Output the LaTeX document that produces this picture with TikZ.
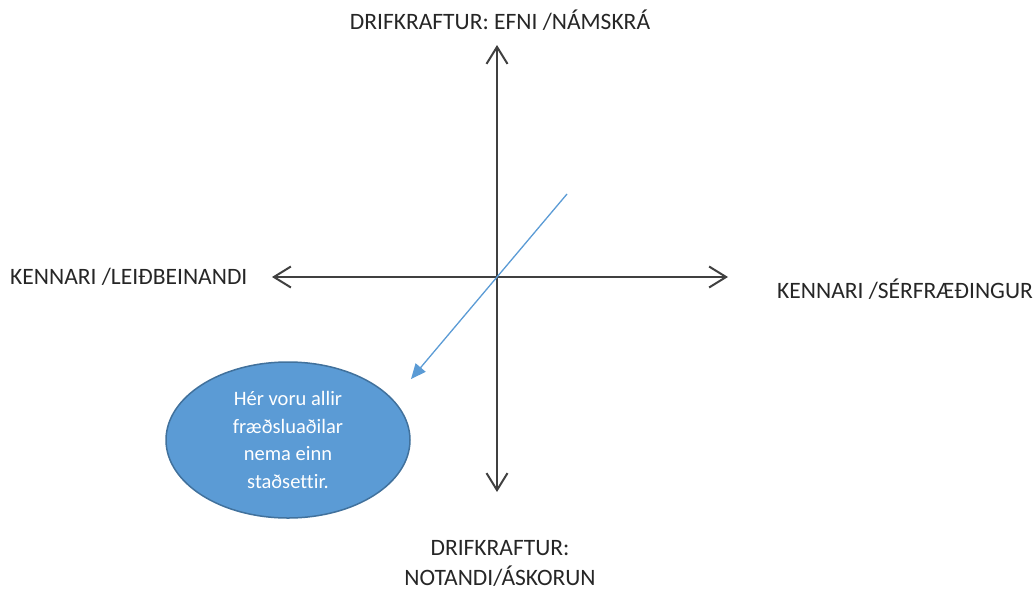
\documentclass[tikz,border=0pt]{standalone}
\usepackage{fontspec}
\setmainfont{Carlito}[Ligatures={NoCommon}]
\usetikzlibrary{arrows.meta,shapes.geometric}
\definecolor{axis}{HTML}{404040}
\definecolor{txt}{HTML}{262626}
\definecolor{blu}{HTML}{5B9BD5}
\definecolor{bluedge}{HTML}{41719C}
\tikzset{
  axisline/.style={draw=axis, line width=2pt, {Straight Barb[length=17pt,width=21pt,line width=2pt]}-{Straight Barb[length=17pt,width=21pt,line width=2pt]}},
  lbl/.style={text=txt, font=\fontsize{23.5}{30}\selectfont, inner sep=0pt, align=center},
  bubble/.style={ellipse, draw=bluedge, line width=1.5pt, fill=blu, minimum width=244pt, minimum height=156pt, inner sep=0pt, text=white, align=center, font=\fontsize{20.5}{27.5}\selectfont},
  pointer/.style={draw=blu, line width=1.3pt, -{Triangle[length=15pt,width=13pt]}}
}
\begin{document}
\begin{tikzpicture}[x=1pt,y=-1pt]
\useasboundingbox (0,0) rectangle (1035,592);
\coordinate (top) at (497,45);
\coordinate (bot) at (497,492);
\coordinate (lft) at (272,277);
\coordinate (rgt) at (728,277);
\coordinate (ps) at (567,194);
\coordinate (pe) at (411,379);
\draw[axisline] (bot) -- (top);
\draw[axisline] (lft) -- (rgt);
\draw[pointer] (ps) -- (pe);
\node[bubble] (b) at (288,440) {Hér voru allir\\fræðsluaðilar\\nema einn\\staðsettir.};
\node[lbl] (tl) at (500,20) {DRIFKRAFTUR: EFNI /NÁMSKRÁ};
\node[lbl, anchor=west] (ll) at (10,277) {KENNARI /LEIÐBEINANDI};
\node[lbl, anchor=west] (rl) at (777,289) {KENNARI /SÉRFRÆÐINGUR};
\node[lbl] (bl) at (500,563) {DRIFKRAFTUR:\\NOTANDI/ÁSKORUN};
\end{tikzpicture}
\end{document}
